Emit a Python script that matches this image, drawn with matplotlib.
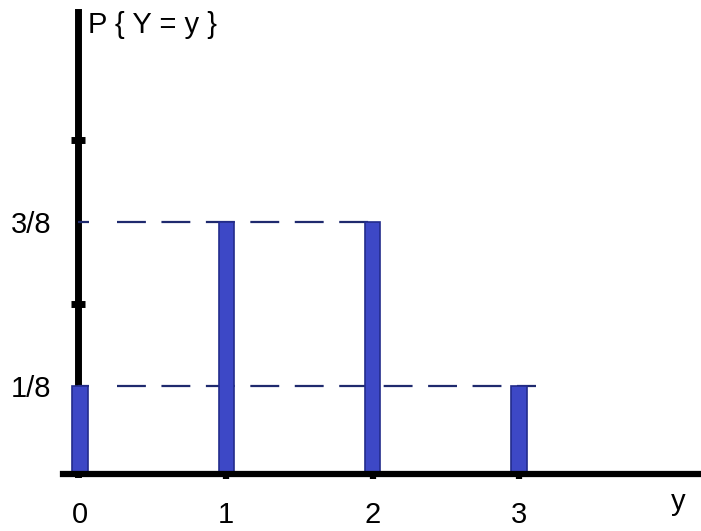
import matplotlib.pyplot as plt
import numpy as np
from matplotlib.ticker import FixedLocator

# number of heads in three fair coin tosses
y_vals = [0, 1, 2, 3]
probs = [1/8, 3/8, 3/8, 1/8]
y_tick_vals = [1/8, 3/8]
y_tick_labels = ["1/8", "3/8"]
y_minor_vals = [2/8, 4/8]
x_tick_labels = ["0", "1", "2", "3"]

plt.rcParams['font.family'] = ['Liberation Sans', 'DejaVu Sans']

fig = plt.figure(figsize=(7.01, 5.31), dpi=100)
ax = fig.add_axes([0, 0, 1, 1])

# pixel-ish scales: 146.3 px per unit on x, 656 px per unit on y
ax.set_xlim(-0.547, 4.245)
ax.set_ylim(-0.096, 0.7134)

base = -0.009  # where the x axis line sits
bar_fill = '#3d48c6'
bar_edge = '#232c8c'
guide = '#1f2a6e'

ax.bar(y_vals, np.array(probs) - base, bottom=base, width=0.105,
       color=bar_fill, edgecolor=bar_edge, linewidth=1.2, zorder=3)

# dashed guides at the two probability levels
ax.plot([0.25, 2.04], [3/8, 3/8], color=guide, lw=1.6,
        linestyle=(0, (13, 7)), zorder=2)
ax.plot([0.25, 3.12], [1/8, 1/8], color=guide, lw=1.6,
        linestyle=(0, (13, 7)), zorder=2)

# axes lines
for s in ['top', 'right']:
    ax.spines[s].set_visible(False)
ax.spines['left'].set_position(('data', -0.014))
ax.spines['bottom'].set_position(('data', base))
ax.spines['left'].set_bounds(base, 0.695)
ax.spines['bottom'].set_bounds(-0.116, 4.245)
ax.spines['left'].set_linewidth(5)
ax.spines['bottom'].set_linewidth(4.5)
ax.spines['left'].set_zorder(1)
ax.spines['bottom'].set_zorder(4)

ax.yaxis.set_major_locator(FixedLocator(y_tick_vals))
ax.set_yticklabels(y_tick_labels)
ax.yaxis.set_minor_locator(FixedLocator(y_minor_vals))
ax.tick_params(axis='y', which='major', direction='in', length=8, width=1.6,
               color=guide, labelsize=21, pad=19)
ax.tick_params(axis='y', which='minor', direction='inout', length=10, width=5,
               color='black')

ax.set_xticks(y_vals)
ax.set_xticklabels(x_tick_labels)
ax.tick_params(axis='x', which='major', direction='out', length=3.5, width=4.5,
               color='black', labelsize=21, pad=16)
ax.xaxis.get_major_ticks()[0].tick1line.set_visible(False)

ax.text(0.967, 1 - 510/531, 'y', transform=ax.transAxes, ha='center',
        va='baseline', fontsize=21)
ax.text(88/701, 1 - 33/531, 'P { Y = y }', transform=ax.transAxes,
        ha='left', va='baseline', fontsize=21)

fig.savefig('out.png', dpi=100)
